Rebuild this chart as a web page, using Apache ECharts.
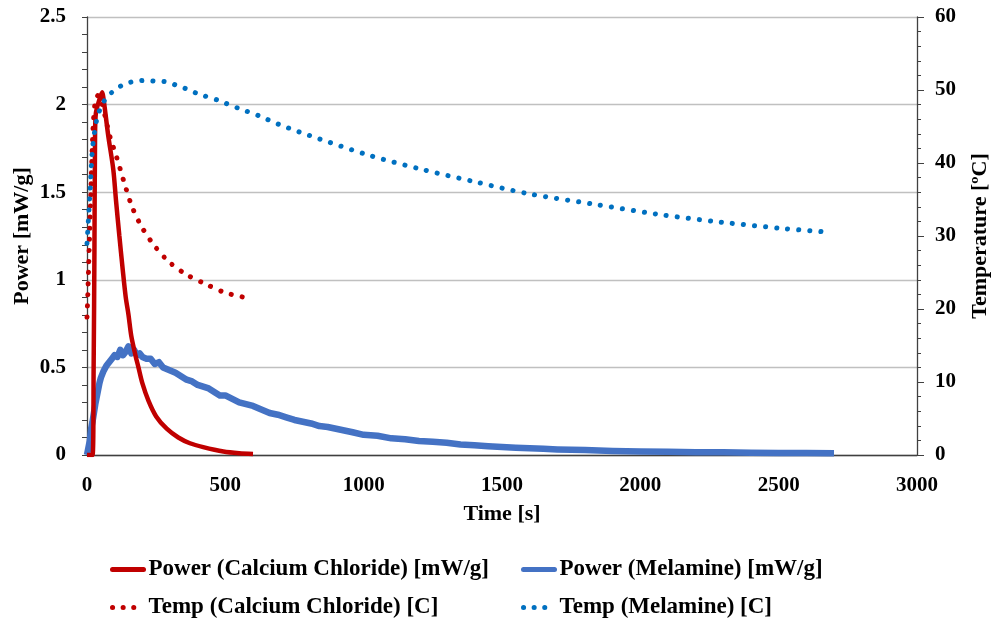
<!DOCTYPE html>
<html>
<head>
<meta charset="utf-8">
<script src="https://cdn.jsdelivr.net/npm/echarts@6/dist/echarts.min.js"></script>
<style>
html, body { margin: 0; padding: 0; background: #fff; }
#main { width: 992px; height: 631px; }
</style>
</head>
<body>
<div id="main"></div>
<script>
// Power, Calcium Chloride [mW/g]
var caPowerTime = [0, 20, 24, 27, 29, 32, 45, 55, 60, 65, 77, 95, 105, 117, 129, 140, 150, 160, 175, 186, 200, 222, 250, 288, 330, 372, 420, 493, 550, 600];
var caPower = [0, 0, 0.5, 1.2, 1.8, 1.95, 2.03, 2.07, 2.03, 1.97, 1.82, 1.63, 1.45, 1.25, 1.06, 0.9, 0.8, 0.68, 0.57, 0.5, 0.41, 0.31, 0.22, 0.15, 0.1, 0.067, 0.045, 0.02, 0.01, 0.006];

// Power, Melamine [mW/g]
var melPowerTime = [0, 5, 10, 15, 20, 25, 30, 35, 40, 45, 50, 55, 60,
    70, 80, 90, 100, 110, 120, 130, 140, 150, 160, 170, 180, 190, 200,
    215, 230, 245, 260, 275, 290, 305, 320,
    340, 360, 380, 400, 420, 440, 460, 480, 500,
    525, 550, 575, 600,
    630, 660, 690, 720, 750, 780, 810, 840, 870, 900, 930, 960,
    1000, 1050, 1100, 1150, 1200, 1250, 1300, 1350, 1400, 1450, 1500, 1550, 1600, 1650, 1700, 1750, 1800, 1850, 1900, 1950, 2000,
    2100, 2200, 2300, 2400, 2500, 2600, 2700];
var melPower = [0, 0.01, 0.08, 0.15, 0.19, 0.24, 0.29, 0.33, 0.37, 0.41, 0.44, 0.46, 0.48,
    0.51, 0.53, 0.55, 0.57, 0.56, 0.6, 0.57, 0.59, 0.62, 0.58, 0.6, 0.57, 0.58, 0.56,
    0.55, 0.55, 0.52, 0.53, 0.5, 0.49, 0.48, 0.47,
    0.45, 0.43, 0.42, 0.4, 0.39, 0.38, 0.36, 0.34, 0.34,
    0.32, 0.3, 0.29, 0.28,
    0.26, 0.24, 0.23, 0.215, 0.2, 0.19, 0.18, 0.165, 0.16, 0.15, 0.14, 0.13,
    0.115, 0.11, 0.095, 0.09, 0.08, 0.075, 0.07, 0.06, 0.055, 0.05, 0.046, 0.042, 0.038, 0.035, 0.032, 0.03, 0.028, 0.025, 0.023, 0.021, 0.02,
    0.018, 0.016, 0.015, 0.013, 0.012, 0.011, 0.01];

// Temp, Calcium Chloride [C]
var caTempTime = [0, 3, 6, 10, 14, 18, 23, 30, 41, 55, 68, 83, 107, 119, 141, 165, 200, 245, 298, 360, 430, 502, 595];
var caTemp = [18.9, 22, 26, 31, 36, 41, 45.5, 48.4, 49.3, 48, 46, 43.6, 40.8, 39.3, 36.5, 33.8, 31.1, 28.6, 26.4, 24.7, 23.4, 22.2, 21.4];

// Temp, Melamine [C]
var melTempTime = [0, 11, 20, 37, 53, 71, 101, 135, 173, 213, 252, 290, 326, 363, 400, 473, 547, 620, 693, 840, 1025, 1213, 1405, 1594, 1825, 2059, 2291, 2524, 2690];
var melTemp = [29, 36, 42, 46.3, 47.8, 49, 50, 50.8, 51.2, 51.3, 51.2, 51.1, 50.6, 50.1, 49.5, 48.6, 47.5, 46.5, 45.3, 43.3, 41, 39.1, 37.4, 35.8, 34.4, 33, 31.9, 31, 30.5];

var seriesNames = ['Power (Calcium Chloride) [mW/g]', 'Power (Melamine) [mW/g]', 'Temp (Calcium Chloride) [C]', 'Temp (Melamine) [C]'];

function pairs(xs, ys) {
    var out = [];
    for (var i = 0; i < xs.length; i++) out.push([xs[i], ys[i]]);
    return out;
}

var font = 'Liberation Serif';
var axisColor = '#404040';
var dotted = [0.1, 11];
var boldText = { fontFamily: font, fontWeight: 'bold', fontSize: 22, color: '#000' };
var tickText = { fontFamily: font, fontWeight: 'bold', fontSize: 21, color: '#000' };

function legendItem(name, left, top, dots) {
    return {
        data: [name],
        left: left,
        top: top,
        padding: 0,
        itemWidth: 31,
        itemHeight: 14,
        itemStyle: { opacity: 0 },
        lineStyle: dots ? { width: 5, type: [0.1, 10.5], cap: 'round' } : { width: 5, type: 'solid', cap: 'round' },
        textStyle: { fontFamily: font, fontWeight: 'bold', fontSize: 23, color: '#000' }
    };
}

var dom = document.getElementById('main');
var myChart = echarts.init(dom);
var option = {
    animation: false,
    textStyle: { fontFamily: font },
    grid: { left: 87, right: 75, top: 17, bottom: 176, outerBoundsMode: 'none', containLabel: false },
    legend: [
        legendItem(seriesNames[0], 110, 558, false),
        legendItem(seriesNames[1], 521, 558, false),
        legendItem(seriesNames[2], 110, 596, true),
        legendItem(seriesNames[3], 521, 596, true)
    ],
    xAxis: {
        type: 'value',
        min: 0,
        max: 3000,
        interval: 500,
        name: 'Time [s]',
        nameLocation: 'middle',
        nameGap: 48,
        nameTextStyle: boldText,
        axisLine: { lineStyle: { color: axisColor, width: 1.3 } },
        axisTick: { show: false },
        axisLabel: Object.assign({ margin: 20, formatter: function (v) { return String(v); } }, tickText),
        splitLine: { show: false }
    },
    yAxis: [
        {
            type: 'value',
            min: 0,
            max: 2.5,
            interval: 0.5,
            name: 'Power [mW/g]',
            nameLocation: 'middle',
            nameGap: 54,
            nameMoveOverlap: false,
            nameRotate: 90,
            nameTextStyle: boldText,
            axisLine: { show: true, lineStyle: { color: axisColor, width: 1.3 } },
            axisTick: { show: true, length: 5, lineStyle: { color: axisColor } },
            minorTick: { show: true, splitNumber: 5, length: 5, lineStyle: { color: axisColor } },
            axisLabel: Object.assign({ margin: 21 }, tickText),
            splitLine: { show: true, lineStyle: { color: '#c0c0c0', width: 1.3 } }
        },
        {
            type: 'value',
            position: 'right',
            min: 0,
            max: 60,
            interval: 10,
            name: 'Temperature [ºC]',
            nameLocation: 'middle',
            nameGap: 52,
            nameRotate: 90,
            nameTextStyle: boldText,
            axisLine: { show: true, lineStyle: { color: axisColor, width: 1.3 } },
            axisTick: { show: true, length: 7, lineStyle: { color: axisColor } },
            minorTick: { show: true, splitNumber: 5, length: 4, lineStyle: { color: axisColor } },
            axisLabel: Object.assign({ margin: 18 }, tickText),
            splitLine: { show: false }
        }
    ],
    series: [
        {
            name: seriesNames[0],
            type: 'line',
            yAxisIndex: 0,
            symbol: 'none',
            smooth: 0.3,
            z: 3,
            color: '#c00000',
            lineStyle: { width: 4.5, color: '#c00000' },
            data: pairs(caPowerTime, caPower)
        },
        {
            name: seriesNames[1],
            type: 'line',
            yAxisIndex: 0,
            symbol: 'none',
            z: 2,
            color: '#4472c4',
            lineStyle: { width: 6.5, color: '#4472c4', join: 'round' },
            data: pairs(melPowerTime, melPower)
        },
        {
            name: seriesNames[2],
            type: 'line',
            yAxisIndex: 1,
            symbol: 'none',
            smooth: 0.3,
            z: 4,
            color: '#c00000',
            lineStyle: { width: 5, color: '#c00000', type: dotted, cap: 'round' },
            data: pairs(caTempTime, caTemp)
        },
        {
            name: seriesNames[3],
            type: 'line',
            yAxisIndex: 1,
            symbol: 'none',
            smooth: 0.3,
            z: 5,
            color: '#0070c0',
            lineStyle: { width: 5, color: '#0070c0', type: dotted, cap: 'round' },
            data: pairs(melTempTime, melTemp)
        }
    ]
};
if (option && typeof option === "object") {
    myChart.setOption(option, true);
}
</script>
</body>
</html>
